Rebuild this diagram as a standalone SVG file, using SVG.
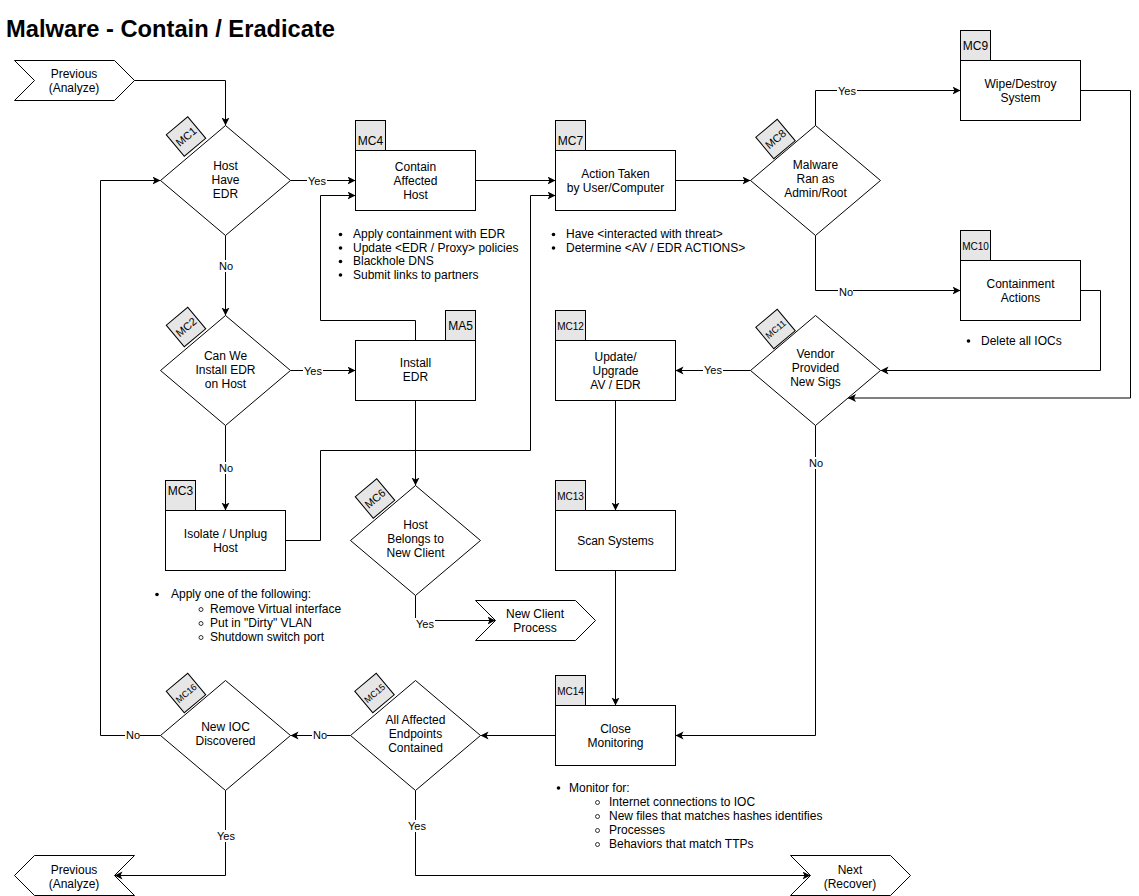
<svg xmlns="http://www.w3.org/2000/svg" width="1139" height="896" viewBox="0 0 1139 896">
<style>
.bg{fill:#fff}
.n{fill:#fff;stroke:#000;stroke-width:1}
.tab{fill:#e6e6e6;stroke:#000;stroke-width:1}
.t{font-family:"Liberation Sans",Arial,Helvetica,sans-serif;font-size:12px;text-anchor:middle;fill:#000}
.s10{font-size:10px}
.s11{font-size:11px}
.s9{font-size:9px}
.l{font-family:"Liberation Sans",Arial,Helvetica,sans-serif;font-size:12px;fill:#000}
.lb{font-family:"Liberation Sans",Arial,Helvetica,sans-serif;font-size:11px;text-anchor:middle;fill:#000}
.lbg{fill:#fff;stroke:none}
.e{fill:none;stroke:#000;stroke-width:1}
.dot{fill:#000}
.ring{fill:none;stroke:#000;stroke-width:0.8}
.title{font-family:"Liberation Sans",Arial,Helvetica,sans-serif;font-size:23px;font-weight:bold;fill:#000}
</style>
<defs>
<marker id="a" markerWidth="10" markerHeight="10" refX="8" refY="4" orient="auto" markerUnits="userSpaceOnUse">
<path d="M0,0 L8,4 L0,8 L2,4 Z" fill="#000"/>
</marker>
</defs>
<rect class="bg" x="0" y="0" width="1139" height="896"/>
<text class="title" x="6" y="37" textLength="329" lengthAdjust="spacingAndGlyphs">Malware - Contain / Eradicate</text>

<g id="connectors">
<path class="e" d="M134.5,80.5 H225.5 V125.5" marker-end="url(#a)"/>
<path class="e" d="M290.5,180.5 H355.5" marker-end="url(#a)"/>
<path class="e" d="M225.5,235.5 V315.5" marker-end="url(#a)"/>
<path class="e" d="M290.5,370.5 H355.5" marker-end="url(#a)"/>
<path class="e" d="M225.5,425.5 V510.5" marker-end="url(#a)"/>
<path class="e" d="M415.5,340.5 V320.5 H320.5 V195.5 H355.5" marker-end="url(#a)"/>
<path class="e" d="M415.5,400.5 V485.5" marker-end="url(#a)"/>
<path class="e" d="M285.5,540.5 H320.5 V450.5 H530.5 V195.5 H555.5" marker-end="url(#a)"/>
<path class="e" d="M475.5,180.5 H555.5" marker-end="url(#a)"/>
<path class="e" d="M675.5,180.5 H750.5" marker-end="url(#a)"/>
<path class="e" d="M815.5,125.5 V90.5 H960.5" marker-end="url(#a)"/>
<path class="e" d="M815.5,235.5 V290.5 H960.5" marker-end="url(#a)"/>
<path class="e" d="M1080.5,90.5 H1130.5 V398 H848" marker-end="url(#a)"/>
<path class="e" d="M1080.5,290.5 H1100.5 V370.5 H880.5" marker-end="url(#a)"/>
<path class="e" d="M750.5,370.5 H675.5" marker-end="url(#a)"/>
<path class="e" d="M815.5,425.5 V735.5 H675.5" marker-end="url(#a)"/>
<path class="e" d="M615.5,400.5 V510.5" marker-end="url(#a)"/>
<path class="e" d="M615.5,570.5 V705.5" marker-end="url(#a)"/>
<path class="e" d="M555.5,735.5 H480.5" marker-end="url(#a)"/>
<path class="e" d="M350.5,735.5 H290.5" marker-end="url(#a)"/>
<path class="e" d="M160.5,735.5 H100.5 V180.5 H160.5" marker-end="url(#a)"/>
<path class="e" d="M225.5,790.5 V875.5 H114.5" marker-end="url(#a)"/>
<path class="e" d="M415.5,790.5 V875.5 H810.5" marker-end="url(#a)"/>
<path class="e" d="M415.5,595.5 V620.5 H495.5" marker-end="url(#a)"/>
<g id="edge-labels">
<rect class="lbg" x="307" y="175" width="20" height="12"/><text class="lb" x="317" y="185">Yes</text>
<rect class="lbg" x="218" y="260" width="15" height="12"/><text class="lb" x="226" y="270">No</text>
<rect class="lbg" x="303" y="365" width="20" height="12"/><text class="lb" x="313" y="375">Yes</text>
<rect class="lbg" x="218" y="462" width="15" height="12"/><text class="lb" x="226" y="472">No</text>
<rect class="lbg" x="837" y="85" width="20" height="12"/><text class="lb" x="847" y="95">Yes</text>
<rect class="lbg" x="838" y="286" width="15" height="12"/><text class="lb" x="846" y="296">No</text>
<rect class="lbg" x="703" y="364" width="20" height="12"/><text class="lb" x="713" y="374">Yes</text>
<rect class="lbg" x="808" y="457" width="15" height="12"/><text class="lb" x="816" y="467">No</text>
<rect class="lbg" x="312" y="729" width="15" height="12"/><text class="lb" x="320" y="739">No</text>
<rect class="lbg" x="125" y="729" width="15" height="12"/><text class="lb" x="133" y="739">No</text>
<rect class="lbg" x="216" y="830" width="20" height="12"/><text class="lb" x="226" y="840">Yes</text>
<rect class="lbg" x="407" y="820" width="20" height="12"/><text class="lb" x="417" y="830">Yes</text>
<rect class="lbg" x="415" y="618" width="20" height="12"/><text class="lb" x="425" y="628">Yes</text>
</g>
</g>

<g id="prev-top">
<polygon class="n" points="14.5,60.5 114.5,60.5 134.5,80.5 114.5,100.5 14.5,100.5 34.5,80.5"/>
<text class="t" x="74" y="78">Previous</text>
<text class="t" x="74" y="92">(Analyze)</text>
</g>

<g id="MC1">
<g transform="translate(186,136.5) rotate(-40)"><rect class="tab" x="-14" y="-14" width="28" height="28"/><text class="t s11" x="0" y="4">MC1</text></g>
<polygon class="n" points="160.5,180.5 225.5,125.5 290.5,180.5 225.5,235.5"/>
<text class="t" x="225.5" y="170">Host</text>
<text class="t" x="225.5" y="184">Have</text>
<text class="t" x="225.5" y="198">EDR</text>
</g>

<g id="MC2">
<g transform="translate(186,327) rotate(-40)"><rect class="tab" x="-14" y="-14" width="28" height="28"/><text class="t s11" x="0" y="4">MC2</text></g>
<polygon class="n" points="160.5,370.5 225.5,315.5 290.5,370.5 225.5,425.5"/>
<text class="t" x="225.5" y="360">Can We</text>
<text class="t" x="225.5" y="374">Install EDR</text>
<text class="t" x="225.5" y="388">on Host</text>
</g>

<g id="MC3">
<rect class="tab" x="165.5" y="480.5" width="30" height="30"/>
<text class="t" x="180.5" y="495">MC3</text>
<rect class="n" x="165.5" y="510.5" width="120" height="60"/>
<text class="t" x="225.5" y="538">Isolate / Unplug</text>
<text class="t" x="225.5" y="552">Host</text>
<circle class="dot" cx="157" cy="594.5" r="1.8"/>
<text class="l" x="171" y="598">Apply one of the following:</text>
<circle class="ring" cx="201" cy="609.5" r="2"/>
<text class="l" x="210" y="613">Remove Virtual interface</text>
<circle class="ring" cx="201" cy="623.5" r="2"/>
<text class="l" x="210" y="627">Put in "Dirty" VLAN</text>
<circle class="ring" cx="201" cy="637.5" r="2"/>
<text class="l" x="210" y="641">Shutdown switch port</text>
</g>

<g id="MC4">
<rect class="tab" x="355.5" y="120.5" width="30" height="30"/>
<text class="t" x="370.5" y="145">MC4</text>
<rect class="n" x="355.5" y="150.5" width="120" height="60"/>
<text class="t" x="415.5" y="171">Contain</text>
<text class="t" x="415.5" y="185">Affected</text>
<text class="t" x="415.5" y="199">Host</text>
<circle class="dot" cx="340.5" cy="234.5" r="1.8"/>
<text class="l" x="353" y="238">Apply containment with EDR</text>
<circle class="dot" cx="340.5" cy="248" r="1.8"/>
<text class="l" x="353" y="252">Update &lt;EDR / Proxy&gt; policies</text>
<circle class="dot" cx="340.5" cy="261.5" r="1.8"/>
<text class="l" x="353" y="265">Blackhole DNS</text>
<circle class="dot" cx="340.5" cy="275" r="1.8"/>
<text class="l" x="353" y="279">Submit links to partners</text>
</g>

<g id="MA5">
<rect class="tab" x="445.5" y="310.5" width="30" height="30"/>
<text class="t" x="460.5" y="330">MA5</text>
<rect class="n" x="355.5" y="340.5" width="120" height="60"/>
<text class="t" x="415.5" y="367">Install</text>
<text class="t" x="415.5" y="381">EDR</text>
</g>

<g id="MC6">
<g transform="translate(375,498.5) rotate(-40)"><rect class="tab" x="-14" y="-14" width="28" height="28"/><text class="t s11" x="0" y="4">MC6</text></g>
<polygon class="n" points="350.5,540.5 415.5,485.5 480.5,540.5 415.5,595.5"/>
<text class="t" x="415.5" y="529">Host</text>
<text class="t" x="415.5" y="543">Belongs to</text>
<text class="t" x="415.5" y="557">New Client</text>
</g>

<g id="new-client">
<polygon class="n" points="475.5,600.5 575.5,600.5 595.5,620.5 575.5,640.5 475.5,640.5 495.5,620.5"/>
<text class="t" x="535" y="618">New Client</text>
<text class="t" x="535" y="632">Process</text>
</g>

<g id="MC7">
<rect class="tab" x="555.5" y="120.5" width="30" height="30"/>
<text class="t" x="570.5" y="145">MC7</text>
<rect class="n" x="555.5" y="150.5" width="120" height="60"/>
<text class="t" x="615.5" y="178">Action Taken</text>
<text class="t" x="615.5" y="192">by User/Computer</text>
<circle class="dot" cx="553.5" cy="234.5" r="1.8"/>
<text class="l" x="566" y="238">Have &lt;interacted with threat&gt;</text>
<circle class="dot" cx="553.5" cy="248" r="1.8"/>
<text class="l" x="566" y="252">Determine &lt;AV / EDR ACTIONS&gt;</text>
</g>

<g id="MC8">
<g transform="translate(775.5,139) rotate(-40)"><rect class="tab" x="-14" y="-14" width="28" height="28"/><text class="t s11" x="0" y="4">MC8</text></g>
<polygon class="n" points="750.5,180.5 815.5,125.5 880.5,180.5 815.5,235.5"/>
<text class="t" x="815.5" y="169">Malware</text>
<text class="t" x="815.5" y="183">Ran as</text>
<text class="t" x="815.5" y="197">Admin/Root</text>
</g>

<g id="MC9">
<rect class="tab" x="960.5" y="30.5" width="30" height="30"/>
<text class="t" x="975.5" y="50">MC9</text>
<rect class="n" x="960.5" y="60.5" width="120" height="60"/>
<text class="t" x="1020.5" y="88">Wipe/Destroy</text>
<text class="t" x="1020.5" y="102">System</text>
</g>

<g id="MC10">
<rect class="tab" x="960.5" y="230.5" width="30" height="30"/>
<text class="t s10" x="975.5" y="250">MC10</text>
<rect class="n" x="960.5" y="260.5" width="120" height="60"/>
<text class="t" x="1020.5" y="288">Containment</text>
<text class="t" x="1020.5" y="302">Actions</text>
<circle class="dot" cx="968.5" cy="341" r="1.8"/>
<text class="l" x="981" y="345">Delete all IOCs</text>
</g>

<g id="MC11">
<g transform="translate(775.5,329) rotate(-40)"><rect class="tab" x="-14" y="-14" width="28" height="28"/><text class="t s9" x="0" y="3.5">MC11</text></g>
<polygon class="n" points="750.5,370.5 815.5,315.5 880.5,370.5 815.5,425.5"/>
<text class="t" x="815.5" y="358">Vendor</text>
<text class="t" x="815.5" y="372">Provided</text>
<text class="t" x="815.5" y="386">New Sigs</text>
</g>

<g id="MC12">
<rect class="tab" x="555.5" y="310.5" width="30" height="30"/>
<text class="t s10" x="570.5" y="330">MC12</text>
<rect class="n" x="555.5" y="340.5" width="120" height="60"/>
<text class="t" x="615.5" y="361">Update/</text>
<text class="t" x="615.5" y="375">Upgrade</text>
<text class="t" x="615.5" y="389">AV / EDR</text>
</g>

<g id="MC13">
<rect class="tab" x="555.5" y="480.5" width="30" height="30"/>
<text class="t s10" x="570.5" y="500">MC13</text>
<rect class="n" x="555.5" y="510.5" width="120" height="60"/>
<text class="t" x="615.5" y="545">Scan Systems</text>
</g>

<g id="MC14">
<rect class="tab" x="555.5" y="675.5" width="30" height="30"/>
<text class="t s10" x="570.5" y="695">MC14</text>
<rect class="n" x="555.5" y="705.5" width="120" height="60"/>
<text class="t" x="615.5" y="733">Close</text>
<text class="t" x="615.5" y="747">Monitoring</text>
<circle class="dot" cx="558.5" cy="788" r="1.8"/>
<text class="l" x="569" y="792">Monitor for:</text>
<circle class="ring" cx="597.5" cy="802.5" r="2"/>
<text class="l" x="609" y="806">Internet connections to IOC</text>
<circle class="ring" cx="597.5" cy="816.5" r="2"/>
<text class="l" x="609" y="820">New files that matches hashes identifies</text>
<circle class="ring" cx="597.5" cy="830.5" r="2"/>
<text class="l" x="609" y="834">Processes</text>
<circle class="ring" cx="597.5" cy="844.5" r="2"/>
<text class="l" x="609" y="848">Behaviors that match TTPs</text>
</g>

<g id="MC15">
<g transform="translate(374.5,693) rotate(-40)"><rect class="tab" x="-14" y="-14" width="28" height="28"/><text class="t s9" x="0" y="3.5">MC15</text></g>
<polygon class="n" points="350.5,735.5 415.5,680.5 480.5,735.5 415.5,790.5"/>
<text class="t" x="415.5" y="724">All Affected</text>
<text class="t" x="415.5" y="738">Endpoints</text>
<text class="t" x="415.5" y="752">Contained</text>
</g>

<g id="MC16">
<g transform="translate(186,693) rotate(-40)"><rect class="tab" x="-14" y="-14" width="28" height="28"/><text class="t s9" x="0" y="3.5">MC16</text></g>
<polygon class="n" points="160.5,735.5 225.5,680.5 290.5,735.5 225.5,790.5"/>
<text class="t" x="225.5" y="731">New IOC</text>
<text class="t" x="225.5" y="745">Discovered</text>
</g>

<g id="prev-bottom">
<polygon class="n" points="14.5,875.5 34.5,855.5 134.5,855.5 114.5,875.5 134.5,895.5 34.5,895.5"/>
<text class="t" x="74" y="874">Previous</text>
<text class="t" x="74" y="888">(Analyze)</text>
</g>

<g id="next">
<polygon class="n" points="790.5,855.5 890.5,855.5 910.5,875.5 890.5,895.5 790.5,895.5 810.5,875.5"/>
<text class="t" x="850" y="874">Next</text>
<text class="t" x="850" y="888">(Recover)</text>
</g>
</svg>
